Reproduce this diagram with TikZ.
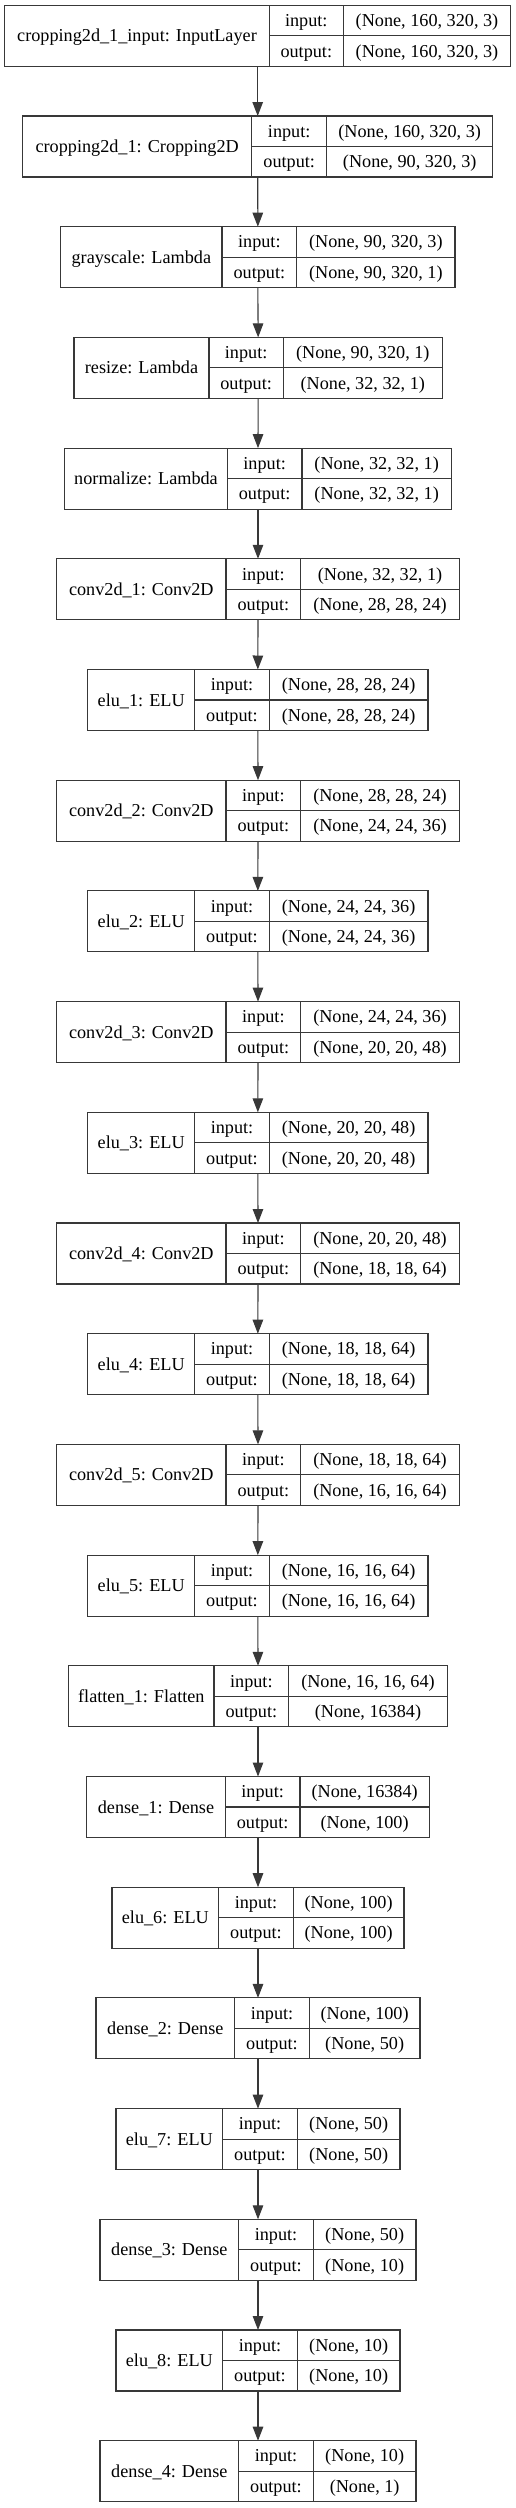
\documentclass[tikz,border=0pt]{standalone}
\usepackage{fontspec}
\setmainfont{Liberation Serif}
\usetikzlibrary{arrows.meta}
\tikzset{
  cell/.style={draw=black!78, line width=1.1pt, inner sep=0pt, outer sep=0pt,
    anchor=north west, font=\fontsize{18.2pt}{22pt}\selectfont,
    text height=12.5pt, text depth=0.5pt, align=center},
  whole/.style={inner sep=0pt, outer sep=0pt, anchor=north west, minimum height=61pt},
  arr/.style={draw=black!78, line width=1.1pt, -{Triangle[length=14pt,width=10.5pt]}}
}
\newcommand{\kerasrec}[9]{%
  \pgfmathsetmacro{\ty}{5.3+110.7*#2}%
  \pgfmathsetmacro{\my}{\ty+30.5}%
  \node[whole, minimum width={#6-#3}] (#1) at (#3,\ty) {};
  \node[cell, minimum width={#4-#3}, minimum height=61pt] (#1-n) at (#3,\ty) {#7};
  \node[cell, minimum width={#5-#4}, minimum height=30.5pt] (#1-ik) at (#4,\ty) {input:};
  \node[cell, minimum width={#5-#4}, minimum height=30.5pt] (#1-ok) at (#4,\my) {output:};
  \node[cell, minimum width={#6-#5}, minimum height=30.5pt] (#1-iv) at (#5,\ty) {#8};
  \node[cell, minimum width={#6-#5}, minimum height=30.5pt] (#1-ov) at (#5,\my) {#9};
}
\begin{document}
\begin{tikzpicture}[x=1pt,y=-1pt]
\useasboundingbox (0,0) rectangle (516,2508);
\kerasrec{l0}{0}{4.7}{269.3}{343.3}{510.7}{cropping2d\_1\_input: InputLayer}{(None, 160, 320, 3)}{(None, 160, 320, 3)}
\kerasrec{l1}{1}{22.7}{251.7}{326.7}{492.7}{cropping2d\_1: Cropping2D}{(None, 160, 320, 3)}{(None, 90, 320, 3)}
\kerasrec{l2}{2}{60.7}{222}{296.7}{455}{grayscale: Lambda}{(None, 90, 320, 3)}{(None, 90, 320, 1)}
\kerasrec{l3}{3}{74}{209}{283.3}{442.3}{resize: Lambda}{(None, 90, 320, 1)}{(None, 32, 32, 1)}
\kerasrec{l4}{4}{64.7}{227.3}{302}{451.3}{normalize: Lambda}{(None, 32, 32, 1)}{(None, 32, 32, 1)}
\kerasrec{l5}{5}{56.7}{226}{300.7}{459.3}{conv2d\_1: Conv2D}{(None, 32, 32, 1)}{(None, 28, 28, 24)}
\kerasrec{l6}{6}{87.7}{194.7}{269.3}{428}{elu\_1: ELU}{(None, 28, 28, 24)}{(None, 28, 28, 24)}
\kerasrec{l7}{7}{56.7}{226}{300.7}{459.3}{conv2d\_2: Conv2D}{(None, 28, 28, 24)}{(None, 24, 24, 36)}
\kerasrec{l8}{8}{87.7}{194.7}{269.3}{428}{elu\_2: ELU}{(None, 24, 24, 36)}{(None, 24, 24, 36)}
\kerasrec{l9}{9}{56.7}{226}{300.7}{459.3}{conv2d\_3: Conv2D}{(None, 24, 24, 36)}{(None, 20, 20, 48)}
\kerasrec{l10}{10}{87.7}{194.7}{269.3}{428}{elu\_3: ELU}{(None, 20, 20, 48)}{(None, 20, 20, 48)}
\kerasrec{l11}{11}{56.7}{226}{300.7}{459.3}{conv2d\_4: Conv2D}{(None, 20, 20, 48)}{(None, 18, 18, 64)}
\kerasrec{l12}{12}{87.7}{194.7}{269.3}{428}{elu\_4: ELU}{(None, 18, 18, 64)}{(None, 18, 18, 64)}
\kerasrec{l13}{13}{56.7}{226}{300.7}{459.3}{conv2d\_5: Conv2D}{(None, 18, 18, 64)}{(None, 16, 16, 64)}
\kerasrec{l14}{14}{87.7}{194.7}{269.3}{428}{elu\_5: ELU}{(None, 16, 16, 64)}{(None, 16, 16, 64)}
\kerasrec{l15}{15}{68.7}{214}{288.7}{447.3}{flatten\_1: Flatten}{(None, 16, 16, 64)}{(None, 16384)}
\kerasrec{l16}{16}{86.7}{225.3}{300}{429.3}{dense\_1: Dense}{(None, 16384)}{(None, 100)}
\kerasrec{l17}{17}{112}{218.7}{293.3}{404}{elu\_6: ELU}{(None, 100)}{(None, 100)}
\kerasrec{l18}{18}{96}{234.7}{309.3}{420}{dense\_2: Dense}{(None, 100)}{(None, 50)}
\kerasrec{l19}{19}{116}{222.7}{297.3}{400}{elu\_7: ELU}{(None, 50)}{(None, 50)}
\kerasrec{l20}{20}{100}{238.7}{313.3}{416}{dense\_3: Dense}{(None, 50)}{(None, 10)}
\kerasrec{l21}{21}{116}{222.7}{297.3}{400}{elu\_8: ELU}{(None, 10)}{(None, 10)}
\kerasrec{l22}{22}{100}{238.7}{313.3}{416}{dense\_4: Dense}{(None, 10)}{(None, 1)}
\foreach \a [evaluate=\a as \b using int(\a+1)] in {0,...,21}{
  \draw[arr] (l\a.south) -- (l\b.north);
}
\end{tikzpicture}
\end{document}
